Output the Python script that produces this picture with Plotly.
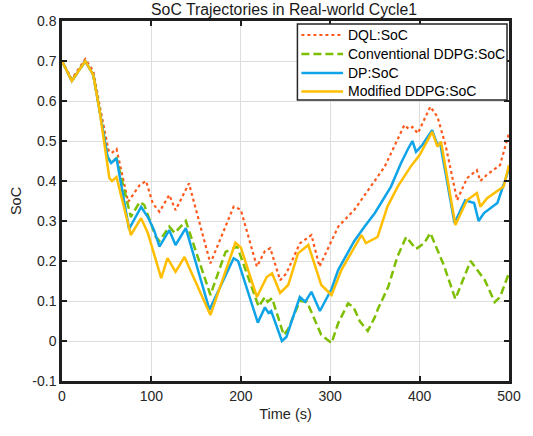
import plotly.graph_objects as go

# ---- data ----
dql_t = [0, 11, 26, 35, 42, 52, 55.5, 61, 74, 87, 94, 101.5, 109, 120, 127, 142, 166, 192, 200, 218, 227, 233,
         244, 251, 266, 279, 288, 309, 327, 342, 361, 383, 388, 392, 398, 412, 420, 429, 442, 453, 464, 468,
         475, 490, 500]
dql_v = [0.70, 0.655, 0.705, 0.675, 0.59, 0.477, 0.47, 0.48, 0.348, 0.39, 0.40, 0.344, 0.323, 0.365, 0.327,
         0.394, 0.194, 0.336, 0.328, 0.186, 0.225, 0.232, 0.152, 0.169, 0.244, 0.265, 0.186, 0.286, 0.328,
         0.377, 0.436, 0.54, 0.53, 0.535, 0.519, 0.586, 0.56, 0.49, 0.352, 0.407, 0.427, 0.40, 0.415, 0.44, 0.52]

conv_t = [0, 11, 26, 35, 42, 51, 55, 61, 77, 87, 92, 105, 109, 120, 126, 138.5, 166, 183, 196, 220, 227, 230,
          235, 248, 253, 266, 274, 290, 301.5, 309, 320, 326, 333, 342, 350, 353, 365, 375, 385, 396, 405,
          412, 427, 440, 457, 473, 484, 490, 500]
conv_v = [0.70, 0.65, 0.70, 0.665, 0.577, 0.46, 0.445, 0.457, 0.31, 0.348, 0.34, 0.26, 0.25, 0.286, 0.27,
          0.30, 0.115, 0.223, 0.236, 0.086, 0.11, 0.098, 0.107, 0.015, 0.03, 0.10, 0.098, 0.015, -0.005,
          0.045, 0.094, 0.085, 0.05, 0.025, 0.06, 0.078, 0.136, 0.21, 0.26, 0.23, 0.244, 0.27, 0.19, 0.105,
          0.20, 0.152, 0.097, 0.11, 0.17]

dp_t = [0, 11, 26, 35, 42, 51, 55, 61, 75, 88.5, 96, 103, 109, 120, 127, 138.5, 165, 192, 197, 219, 227, 231,
        234, 246, 251, 266, 272, 279, 288.5, 301.5, 309, 327, 338.5, 350, 368, 379, 387, 392, 396, 403, 414,
        420, 423, 439, 451, 461, 466, 472, 487, 500]
dp_v = [0.70, 0.65, 0.70, 0.665, 0.577, 0.46, 0.445, 0.457, 0.28, 0.335, 0.31, 0.277, 0.236, 0.277, 0.24,
        0.282, 0.078, 0.207, 0.20, 0.046, 0.084, 0.07, 0.075, 0.0, 0.01, 0.11, 0.098, 0.123, 0.075, 0.13,
        0.178, 0.25, 0.286, 0.32, 0.386, 0.444, 0.48, 0.50, 0.473, 0.49, 0.527, 0.49, 0.495, 0.295, 0.352,
        0.345, 0.30, 0.32, 0.345, 0.43]

mod_t = [0, 11, 26, 35, 42, 53, 56, 61, 77, 88.5, 96, 111, 118, 127, 137, 166, 194, 200, 218, 229, 235, 244,
         253, 264, 275.5, 290, 301.5, 312.6, 335, 340, 353, 364, 375.5, 390, 400, 414, 420, 424, 440, 453,
         464, 468, 475.5, 494, 500]
mod_v = [0.70, 0.65, 0.70, 0.665, 0.577, 0.407, 0.40, 0.41, 0.265, 0.307, 0.27, 0.157, 0.207, 0.173, 0.21,
         0.065, 0.246, 0.234, 0.11, 0.16, 0.169, 0.12, 0.14, 0.219, 0.24, 0.14, 0.115, 0.178, 0.265, 0.245,
         0.26, 0.336, 0.386, 0.436, 0.465, 0.523, 0.486, 0.498, 0.29, 0.352, 0.37, 0.336, 0.357, 0.386, 0.44]

names = ["DQL:SoC", "Conventional DDPG:SoC", "DP:SoC", "Modified DDPG:SoC"]
x_ticks = [0, 100, 200, 300, 400, 500]
y_ticks = [-0.1, 0, 0.1, 0.2, 0.3, 0.4, 0.5, 0.6, 0.7, 0.8]
y_ticktext = ["-0.1", "0", "0.1", "0.2", "0.3", "0.4", "0.5", "0.6", "0.7", "0.8"]

FONT = "Arial, Liberation Sans, Helvetica, sans-serif"
colors = ["#FF5A1E", "#7DBE00", "#0FA3E8", "#FFBE00"]
dashes = ["dot", "8px,4px", "solid", "solid"]
widths = [2.2, 2.5, 2.5, 2.5]
series = [(dql_t, dql_v), (conv_t, conv_v), (dp_t, dp_v), (mod_t, mod_v)]

fig = go.Figure()
for (t, v), nm, c, d, w in zip(series, names, colors, dashes, widths):
    fig.add_trace(go.Scatter(x=t, y=v, mode="lines", name=nm, showlegend=False,
                             line=dict(color=c, width=w, dash=d)))

# ---- compact legend box (plot-area fractions), matching the reference's tight MATLAB legend ----
L, T, W, H = 62, 21, 450, 360          # plot-area geometry in pixels
def fx(px): return (px - L) / W
def fy(py): return (T + H - py) / H

shapes = [dict(type="rect", xref="paper", yref="paper", x0=fx(299), x1=fx(510), y0=fy(100), y1=fy(24),
               fillcolor="white", line=dict(color="#262626", width=1.5), layer="above")]
annotations = []
row_y = [35, 54, 73, 91.5]
for nm, c, d, w, ry in zip(names, colors, dashes, widths, row_y):
    shapes.append(dict(type="line", xref="paper", yref="paper", x0=fx(303), x1=fx(345), y0=fy(ry), y1=fy(ry),
                       line=dict(color=c, width=w, dash=d), layer="above"))
    annotations.append(dict(text=nm, xref="paper", yref="paper", x=fx(348), y=fy(ry), xanchor="left",
                            yanchor="middle", showarrow=False,
                            font=dict(family=FONT, size=14, color="#000000")))

axis_common = dict(showline=True, linecolor="#1e1e1e", linewidth=2.5, mirror="ticks",
                   ticks="inside", ticklen=5, tickwidth=2, tickcolor="#1e1e1e",
                   showgrid=True, gridcolor="#DEDEDE", gridwidth=1.2, zeroline=False,
                   tickfont=dict(family=FONT, size=14, color="#262626"))

fig.update_layout(
    width=533, height=436,
    margin=dict(l=L, r=533 - L - W, t=T, b=436 - T - H),
    paper_bgcolor="white", plot_bgcolor="white",
    title=dict(text="SoC Trajectories in Real-world Cycle1", x=0.533, xanchor="center",
               y=0.978, yanchor="middle", font=dict(family=FONT, size=15.8, color="#1a1a1a")),
    xaxis=dict(range=[0, 500], tickvals=x_ticks,
               title=dict(text="Time (s)", font=dict(family=FONT, size=14.5, color="#262626"), standoff=7),
               **axis_common),
    yaxis=dict(range=[-0.1, 0.8], tickvals=y_ticks, ticktext=y_ticktext,
               title=dict(text="SoC", font=dict(family=FONT, size=14.5, color="#262626"), standoff=8),
               **axis_common),
    shapes=shapes,
    annotations=annotations,
    showlegend=False,
)

fig.write_html("out.html")
